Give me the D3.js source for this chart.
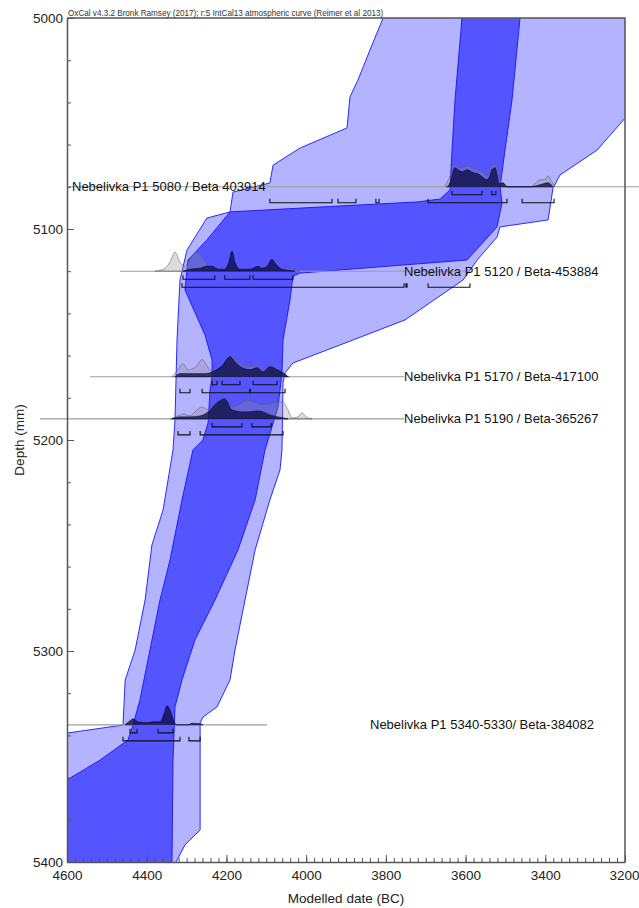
<!DOCTYPE html>
<html><head><meta charset="utf-8">
<script src="https://cdn.jsdelivr.net/npm/d3@7"></script>
<style>body{margin:0;background:#fff}svg{display:block}</style>
</head><body><svg id="c" width="639" height="908"></svg>
<script>
// ---------- data ----------
const xDomain=[4600,3200];
const yDomain=[5000,5400];
const xMajorTicks=[4600,4400,4200,4000,3800,3600,3400,3200];
const yMajorTicks=[5000,5100,5200,5300,5400];
const titleText="OxCal v4.3.2 Bronk Ramsey (2017); r:5 IntCal13 atmospheric curve (Reimer et al 2013)";
const xLabel="Modelled date (BC)";
const yLabel="Depth (mm)";

// envelope boundaries: [depth, date BC]
const light95Older=[[4995,3797],[5000,3807],[5015.2,3840],[5029.4,3870],[5037.4,3890],[5052.1,3897.5],[5061.6,4015],[5069.7,4083],[5078.2,4091],[5082.5,4183.5],[5091.9,4191],[5094.8,4249],[5110,4299],[5124.2,4316.5],[5152.6,4324],[5190.5,4329],[5204.7,4334],[5233.2,4359],[5249.8,4387],[5275.8,4404],[5299.5,4429],[5313.7,4454],[5335.1,4459.5],[5338.9,4600],[5340,4660],[5410,4660]];
const light95Younger=[[4995,3150],[5039.3,3162],[5062.6,3270],[5074.4,3363],[5080.6,3380.6],[5095.7,3393],[5099,3513.6],[5103.8,3521],[5114.7,3571],[5124.2,3606.4],[5143.1,3752],[5152.6,3882.4],[5163.5,4033],[5168.2,4053],[5173,4058],[5204.7,4060.6],[5214.2,4065.6],[5228.4,4091],[5252.1,4128],[5275.8,4153.4],[5299.5,4178.5],[5313.7,4191],[5326.5,4223.6],[5331.3,4258.8],[5334.1,4266],[5384.8,4266],[5391.9,4304],[5400,4326.5],[5410,4328]];
const dark68Older=[[4995,3607],[5000,3609],[5038.9,3626.5],[5062.6,3634],[5081.5,3639],[5085.8,3664],[5087.2,3722],[5089.6,3965],[5091.9,4191],[5105.2,4249],[5114.7,4296.4],[5128.9,4304],[5150.2,4253.8],[5162.1,4236],[5170.1,4236],[5176.3,4241],[5191.9,4246],[5200,4259],[5204.7,4284],[5228.4,4311.5],[5256.9,4341.6],[5275.8,4366.7],[5299.5,4391.8],[5323.2,4417],[5335.1,4434.4],[5342.2,4447],[5351.7,4517],[5361.1,4600],[5366,4660],[5410,4660]];
const dark68Younger=[[4995,3462],[5000,3463.4],[5038.9,3483.5],[5062.6,3501],[5080.1,3513.6],[5087.7,3508.6],[5099,3521],[5114.7,3596.4],[5120.9,4015],[5122.3,4033],[5133.6,4040.5],[5152.6,4058],[5168.2,4060.6],[5184.4,4070.6],[5204.7,4103.2],[5228.4,4128],[5252.1,4171],[5275.8,4228.7],[5294.8,4279],[5313.7,4311.5],[5326.5,4329],[5351.7,4334],[5400,4336.6],[5410,4337]];

// dated samples
const sampleDepths=[5080,5120,5170,5190,5335];
const sampleNames=["Nebelivka P1 5080 / Beta 403914","Nebelivka P1 5120 / Beta-453884","Nebelivka P1 5170 / Beta-417100","Nebelivka P1 5190 / Beta-365267","Nebelivka P1 5340-5330/ Beta-384082"];
const baselineFrom=[4600,4467,4542,4668,4600];
const baselineTo=[3165,3589,3754,3754,4098];

// densities: [date BC, relative probability]
const likelihood5080=[[3652,0],[3634,0.6],[3626.5,0.88],[3614,0.76],[3596,0.84],[3581,0.76],[3559,0.6],[3546,0.44],[3539,0.68],[3529,0.92],[3521,0.76],[3514,0.28],[3501,0.08],[3488.5,0],[3438,0],[3426,0.12],[3413,0.28],[3401,0.28],[3393,0.44],[3386,0.28],[3376,0]];
const posterior5080=[[3646.6,0],[3639,0.16],[3631.5,0.6],[3626.5,0.76],[3619,0.68],[3609,0.6],[3596,0.68],[3581,0.56],[3569,0.52],[3559,0.4],[3546,0.28],[3539,0.44],[3534,0.68],[3526,0.76],[3521,0.48],[3516,0.12],[3506,0.16],[3496,0],[3438,0],[3413,0.08],[3393,0.16],[3381,0]];
const likelihood5120=[[4379,0],[4354,0.12],[4342,0.36],[4329,0.76],[4316.5,0.36],[4304,0.2],[4291,0.52],[4274,0.76],[4259,0.52],[4241,0.12],[4221,0.04],[4191,0.04],[4040,0.04],[4015,0]];
const posterior5120=[[4309,0],[4291,0.08],[4266,0.12],[4249,0.2],[4236,0.2],[4221,0.08],[4204,0.08],[4194,0.36],[4186,0.8],[4178.5,0.36],[4166,0.08],[4141,0.08],[4128,0.16],[4121,0.2],[4111,0.12],[4098,0.2],[4086,0.48],[4076,0.28],[4061,0.08],[4028,0]];
const likelihood5170=[[4336.6,0],[4321.5,0.28],[4309,0.52],[4296.4,0.28],[4279,0.36],[4261,0.68],[4249,0.44],[4236,0.2],[4216,0.28],[4191,0.8],[4176,0.68],[4166,0.56],[4148,0.4],[4123,0.44],[4108,0.28],[4091,0.44],[4071,0.28],[4053,0.04],[4040.5,0]];
const posterior5170=[[4329,0],[4316.5,0.12],[4279,0.12],[4254,0.12],[4234,0.2],[4211,0.44],[4191,0.8],[4178.5,0.6],[4161,0.36],[4141,0.28],[4123,0.36],[4108,0.2],[4091,0.4],[4073,0.28],[4058,0.16],[4045.5,0]];
const likelihood5190=[[4341.6,0],[4321.5,0.12],[4309,0.2],[4291,0.12],[4274,0.36],[4261,0.48],[4246,0.36],[4229,0.6],[4204,0.84],[4184,0.48],[4166,0.6],[4148,0.76],[4128,0.68],[4108,0.56],[4086,0.64],[4058,0.68],[4045.5,0.36],[4035.5,0.04],[4020.4,0.08],[4010.4,0.24],[4000.3,0.08],[3985,0]];
const posterior5190=[[4336.6,0],[4316.5,0.08],[4291,0.08],[4266,0.12],[4246,0.28],[4224,0.64],[4204,0.8],[4186,0.36],[4158.4,0.28],[4141,0.28],[4123,0.32],[4108,0.28],[4091,0.16],[4058,0.04],[4045.5,0]];
const likelihood5335=[];
const posterior5335=[[4454.5,0],[4442,0.16],[4434.4,0.24],[4422,0.12],[4399,0.08],[4384,0.12],[4366.7,0.12],[4356.6,0.44],[4349,0.76],[4341.6,0.6],[4336.6,0.36],[4329,0.04],[4321.5,0],[4296.4,0],[4286.4,0.06],[4266,0.04],[4258.8,0]];

// highest posterior density ranges [from, to] BC
const hpd68_5080=[[3634,3559],[3534,3524]];
const hpd95_5080=[[4091,3935],[3920,3875],[3825,3817],[3694,3496],[3458,3378]];
const hpd68_5120=[[4309,4229],[4204,4141],[4133,4033]];
const hpd95_5120=[[4311.5,3754.5],[3749.5,3747],[3694,3589]];
const hpd68_5170=[[4236,4223.6],[4211,4166],[4133,4073]];
const hpd95_5170=[[4316.5,4291.4],[4261,4141],[4141,4053]];
const hpd68_5190=[[4236,4161],[4136,4088]];
const hpd95_5190=[[4321.5,4291.4],[4266,4058]];
const hpd68_5335=[[4442,4424.4],[4371.7,4334]];
const hpd95_5335=[[4459.5,4316.5],[4294,4266]];

const likelihoods=[likelihood5080,likelihood5120,likelihood5170,likelihood5190,likelihood5335];
const posteriors=[posterior5080,posterior5120,posterior5170,posterior5190,posterior5335];
const hpd68=[hpd68_5080,hpd68_5120,hpd68_5170,hpd68_5190,hpd68_5335];
const hpd95=[hpd95_5080,hpd95_5120,hpd95_5170,hpd95_5190,hpd95_5335];

// ---------- drawing ----------
const svg=d3.select("#c");
const L=67,R=625,T=18,B=862;
const x=d3.scaleLinear().domain(xDomain).range([L,R]);
const y=d3.scaleLinear().domain(yDomain).range([T,B]);
const dens=d3.scaleLinear().domain([0,1]).range([0,25]);
const FONT="'Liberation Sans', Arial, Helvetica, sans-serif";

svg.append("defs").append("clipPath").attr("id","plot")
  .append("rect").attr("x",L).attr("y",T).attr("width",R-L).attr("height",B-T);

function envelope(older,younger){
  const pts=older.map(d=>[x(d[1]),y(d[0])]).concat(younger.slice().reverse().map(d=>[x(d[1]),y(d[0])]));
  return "M"+pts.map(p=>p.join(",")).join("L")+"Z";
}
const env=svg.append("g").attr("clip-path","url(#plot)");
env.append("path").attr("d",envelope(light95Older,light95Younger))
  .attr("fill","#b3b3ff").attr("stroke","#2a2aff").attr("stroke-width",1);
env.append("path").attr("d",envelope(dark68Older,dark68Younger))
  .attr("fill","#5555ff").attr("stroke","#1f1fee").attr("stroke-width",1);

const area=(base)=>d3.area().x(d=>x(d[0])).y0(base).y1(d=>base-dens(d[1])).curve(d3.curveMonotoneX);

sampleDepths.forEach((dep,i)=>{
  const by=y(dep);
  const g=svg.append("g");
  g.append("line").attr("x1",x(baselineFrom[i])).attr("x2",x(baselineTo[i]))
    .attr("y1",by).attr("y2",by).attr("stroke","#9c9c9c").attr("stroke-width",1.1);
  if(likelihoods[i].length)
    g.append("path").attr("d",area(by)(likelihoods[i]))
      .attr("fill","rgba(140,140,140,0.3)").attr("stroke","rgba(90,90,90,0.65)").attr("stroke-width",0.8);
  g.append("path").attr("d",area(by)(posteriors[i]))
    .attr("fill","rgba(10,10,60,0.75)").attr("stroke","rgba(10,10,60,0.85)").attr("stroke-width",0.8);
  [[hpd68[i],8],[hpd95[i],16]].forEach(([rs,off])=>{
    rs.forEach(r=>{
      const x1=x(r[0]),x2=x(r[1]),yy=by+off;
      g.append("path").attr("d",`M${x1},${yy-4}V${yy}H${x2}V${yy-4}`)
        .attr("fill","none").attr("stroke","#111").attr("stroke-width",1.1);
    });
  });
});

const labelX=[72,404,404,404,370];
sampleDepths.forEach((dep,i)=>{
  svg.append("text").attr("x",labelX[i]).attr("y",y(dep)).attr("dy","0.35em")
    .attr("font-family",FONT).attr("font-size",13).attr("fill","#111").text(sampleNames[i]);
});

// axes
const axisColor="#555";
const minorX=d3.range(4600,3199,-20), minorY=d3.range(5000,5401,20);
const gx=svg.append("g").attr("transform",`translate(0,${B})`);
gx.call(d3.axisBottom(x).tickValues(minorX).tickSize(-4).tickFormat("").tickSizeOuter(0));
gx.call(g=>g.select(".domain").remove());
const gx2=svg.append("g").attr("transform",`translate(0,${B})`);
gx2.call(d3.axisBottom(x).tickValues(xMajorTicks).tickSize(-7).tickSizeOuter(0).tickPadding(8).tickFormat(d3.format("d")));
const gy=svg.append("g").attr("transform",`translate(${L},0)`);
gy.call(d3.axisLeft(y).tickValues(minorY).tickSize(-4).tickFormat("").tickSizeOuter(0));
gy.call(g=>g.select(".domain").remove());
const gy2=svg.append("g").attr("transform",`translate(${L},0)`);
gy2.call(d3.axisLeft(y).tickValues(yMajorTicks).tickSize(-7).tickSizeOuter(0).tickPadding(4).tickFormat(d3.format("d")));
svg.selectAll(".tick line").attr("stroke",axisColor);
svg.selectAll(".domain").attr("stroke",axisColor).attr("stroke-width",1.5);
svg.selectAll(".tick text").attr("font-family",FONT).attr("font-size",13.5).attr("fill","#222");
// keep the last x label inside the page
gx2.selectAll(".tick text").filter(d=>d===3200).attr("text-anchor","end").attr("dx",14);

// frame top/right
svg.append("path").attr("d",`M${L},${T}H${R}V${B}`).attr("fill","none").attr("stroke",axisColor).attr("stroke-width",1.5);

// title
const tt=svg.append("text").attr("x",L+1).attr("y",T-2).attr("font-family",FONT).attr("font-size",8).attr("fill","#333").text(titleText);
const tw=tt.node().getComputedTextLength();
tt.attr("font-size",8*316/tw);

svg.append("text").attr("x",346).attr("y",898).attr("dy","0.35em").attr("text-anchor","middle")
  .attr("font-family",FONT).attr("font-size",13.5).attr("fill","#222").text(xLabel);
svg.append("text").attr("transform","translate(19,440) rotate(-90)").attr("dy","0.35em").attr("text-anchor","middle")
  .attr("font-family",FONT).attr("font-size",13.5).attr("fill","#222").text(yLabel);
</script></body></html>
